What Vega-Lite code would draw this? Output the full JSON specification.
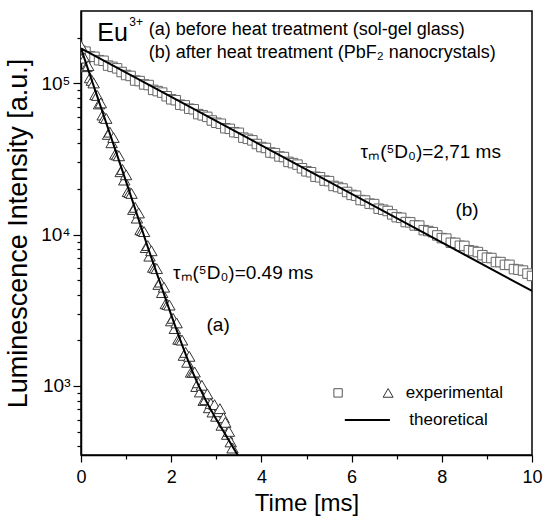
{
  "$schema": "https://vega.github.io/schema/vega-lite/v6.json",
  "autosize": {"type": "none"},
  "padding": {"left": 81, "top": 11, "right": 12, "bottom": 64},
  "width": 451,
  "height": 444,
  "background": "white",
  "config": {
    "view": {"stroke": "black", "strokeWidth": 1.5},
    "font": "Liberation Sans",
    "axis": {"grid": false, "domainColor": "black", "domainWidth": 1.5, "tickColor": "black", "tickWidth": 1.2, "labelColor": "black", "titleColor": "black", "labelFont": "Liberation Sans", "titleFont": "Liberation Sans", "titleFontWeight": "normal"}
  },
  "datasets": {
    "expA": [
      {"t":0,"v":177000},{"t":0.04,"v":148200},{"t":0.08,"v":146500},{"t":0.12,"v":128600},{"t":0.16,"v":130700},{"t":0.2,"v":108600},{"t":0.24,"v":104400},{"t":0.28,"v":100400},{"t":0.32,"v":84020},{"t":0.36,"v":83020},{"t":0.4,"v":72950},{"t":0.44,"v":74100},{"t":0.48,"v":61620},{"t":0.52,"v":59230},{"t":0.56,"v":58520},{"t":0.6,"v":45920},{"t":0.64,"v":47520},{"t":0.68,"v":40430},{"t":0.72,"v":43810},{"t":0.76,"v":33980},{"t":0.8,"v":33570},{"t":0.84,"v":33170},{"t":0.88,"v":26030},{"t":0.92,"v":26940},{"t":0.96,"v":22920},{"t":1.0,"v":24830},{"t":1.04,"v":19230},{"t":1.08,"v":18970},{"t":1.12,"v":18710},{"t":1.16,"v":14660},{"t":1.2,"v":15140},{"t":1.24,"v":12850},{"t":1.28,"v":13900},{"t":1.32,"v":10760},{"t":1.36,"v":10620},{"t":1.4,"v":10470},{"t":1.44,"v":8204},{"t":1.48,"v":8472},{"t":1.52,"v":7207},{"t":1.56,"v":7824},{"t":1.6,"v":6081},{"t":1.64,"v":6020},{"t":1.68,"v":5959},{"t":1.72,"v":4687},{"t":1.76,"v":4858},{"t":1.8,"v":4140},{"t":1.84,"v":4494},{"t":1.88,"v":3493},{"t":1.92,"v":3458},{"t":1.96,"v":3423},{"t":2.0,"v":2692},{"t":2.04,"v":2800},{"t":2.08,"v":2395},{"t":2.12,"v":2610},{"t":2.16,"v":2036},{"t":2.2,"v":2023},{"t":2.24,"v":2010},{"t":2.28,"v":1593},{"t":2.32,"v":1667},{"t":2.36,"v":1434},{"t":2.4,"v":1570},{"t":2.44,"v":1232},{"t":2.48,"v":1231},{"t":2.52,"v":1237},{"t":2.56,"v":992},{"t":2.6,"v":1050},{"t":2.64,"v":913},{"t":2.68,"v":1011},{"t":2.72,"v":802},{"t":2.76,"v":812},{"t":2.8,"v":887},{"t":2.84,"v":718},{"t":2.88,"v":767},{"t":2.92,"v":673},{"t":2.96,"v":753},{"t":3.0,"v":631},{"t":3.04,"v":676},{"t":3.08,"v":708},{"t":3.12,"v":550},{"t":3.16,"v":617},{"t":3.2,"v":575},{"t":3.24,"v":479},{"t":3.28,"v":501},{"t":3.32,"v":427},{"t":3.36,"v":389}
    ],
    "expB": [
      {"t":0,"v":163800},{"t":0.1,"v":161600},{"t":0.2,"v":150800},{"t":0.3,"v":149400},{"t":0.4,"v":142000},{"t":0.5,"v":140700},{"t":0.6,"v":130700},{"t":0.7,"v":128300},{"t":0.8,"v":125400},{"t":0.9,"v":118600},{"t":1.0,"v":113300},{"t":1.1,"v":111700},{"t":1.2,"v":104200},{"t":1.3,"v":103300},{"t":1.4,"v":98200},{"t":1.5,"v":97270},{"t":1.6,"v":90360},{"t":1.7,"v":88720},{"t":1.8,"v":86700},{"t":1.9,"v":82020},{"t":2.0,"v":78320},{"t":2.1,"v":77250},{"t":2.2,"v":72090},{"t":2.3,"v":71410},{"t":2.4,"v":67880},{"t":2.5,"v":67260},{"t":2.6,"v":62500},{"t":2.7,"v":61350},{"t":2.8,"v":59950},{"t":2.9,"v":56730},{"t":3.0,"v":54800},{"t":3.1,"v":54040},{"t":3.2,"v":50430},{"t":3.3,"v":49960},{"t":3.4,"v":47490},{"t":3.5,"v":47050},{"t":3.6,"v":43700},{"t":3.7,"v":42910},{"t":3.8,"v":41930},{"t":3.9,"v":39670},{"t":4.0,"v":37880},{"t":4.1,"v":37360},{"t":4.2,"v":34860},{"t":4.3,"v":34530},{"t":4.4,"v":32830},{"t":4.5,"v":32530},{"t":4.6,"v":30220},{"t":4.7,"v":29660},{"t":4.8,"v":28990},{"t":4.9,"v":27430},{"t":5.0,"v":26190},{"t":5.1,"v":25830},{"t":5.2,"v":24120},{"t":5.3,"v":23910},{"t":5.4,"v":22740},{"t":5.5,"v":22550},{"t":5.6,"v":20970},{"t":5.7,"v":20620},{"t":5.8,"v":20170},{"t":5.9,"v":19120},{"t":6.0,"v":18290},{"t":6.1,"v":18080},{"t":6.2,"v":16910},{"t":6.3,"v":16800},{"t":6.4,"v":16010},{"t":6.5,"v":15910},{"t":6.6,"v":14830},{"t":6.7,"v":14600},{"t":6.8,"v":14320},{"t":6.9,"v":13600},{"t":7.0,"v":13040},{"t":7.1,"v":12910},{"t":7.2,"v":12100},{"t":7.3,"v":12050},{"t":7.4,"v":11500},{"t":7.5,"v":11460},{"t":7.6,"v":10700},{"t":7.7,"v":10560},{"t":7.8,"v":10380},{"t":7.9,"v":9872},{"t":8.0,"v":9484},{"t":8.1,"v":9412},{"t":8.2,"v":8841},{"t":8.3,"v":8815},{"t":8.4,"v":8438},{"t":8.5,"v":8418},{"t":8.6,"v":7876},{"t":8.7,"v":7787},{"t":8.8,"v":7668},{"t":8.9,"v":7313},{"t":9.0,"v":7041},{"t":9.1,"v":7000},{"t":9.2,"v":6588},{"t":9.3,"v":6585},{"t":9.4,"v":6314},{"t":9.5,"v":6311},{"t":9.6,"v":5918},{"t":9.7,"v":5865},{"t":9.8,"v":5787},{"t":9.9,"v":5527},{"t":10.0,"v":5333}
    ],
    "thA": [
      {"t":0,"v":169800},{"t":0.25,"v":102300},{"t":0.5,"v":61660},{"t":0.75,"v":37150},{"t":1.0,"v":22390},{"t":1.25,"v":13340},{"t":1.5,"v":7943},{"t":1.75,"v":4842},{"t":2.0,"v":2951},{"t":2.25,"v":1841},{"t":2.5,"v":1189},{"t":2.75,"v":822},{"t":3.0,"v":603},{"t":3.25,"v":452},{"t":3.5,"v":339}
    ],
    "thB": [
      {"t":0,"v":170000},{"t":10,"v":4245}
    ]
  },
  "encoding": {
    "x": {"type": "quantitative", "scale": {"domain": [0, 10], "nice": false, "zero": false},
      "axis": {"title": "Time [ms]", "values": [0,1,2,3,4,5,6,7,8,9,10], "labelExpr": "datum.value % 2 == 0 ? datum.label : ''", "labelFontSize": 18, "titleFontSize": 24, "labelPadding": 6, "titlePadding": 5, "tickSize": {"condition": {"test": "datum.value % 2 == 0", "value": 7}, "value": 4}, "labelOverlap": false, "labelFlush": false}},
    "y": {"type": "quantitative", "scale": {"type": "log", "domain": [350, 300000], "nice": false},
      "axis": {"title": "Luminescence Intensity [a.u.]", "values": [400,500,600,700,800,900,1000,2000,3000,4000,5000,6000,7000,8000,9000,10000,20000,30000,40000,50000,60000,70000,80000,90000,100000,200000], "labelExpr": "datum.value == 1000 ? '10³' : datum.value == 10000 ? '10⁴' : datum.value == 100000 ? '10⁵' : ''", "labelFontSize": 19, "titleFontSize": 27, "labelPadding": 3, "titlePadding": 8, "tickSize": {"condition": {"test": "datum.value == 1000 || datum.value == 10000 || datum.value == 100000", "value": 8}, "value": 4}, "labelOverlap": false, "labelFlush": false}}
  },
  "layer": [
    {"data": {"name": "expB"}, "mark": {"type": "point", "shape": "square", "size": 90, "fill": "white", "fillOpacity": 1, "stroke": "#666666", "strokeWidth": 1, "opacity": 1, "clip": true},
      "encoding": {"x": {"field": "t"}, "y": {"field": "v"}}},
    {"data": {"name": "expA"}, "mark": {"type": "point", "shape": "triangle-up", "size": 130, "fill": "white", "fillOpacity": 1, "stroke": "#333333", "strokeWidth": 1, "opacity": 1, "clip": true},
      "encoding": {"x": {"field": "t"}, "y": {"field": "v"}}},
    {"data": {"name": "thB"}, "mark": {"type": "line", "color": "black", "strokeWidth": 2, "clip": true},
      "encoding": {"x": {"field": "t"}, "y": {"field": "v"}}},
    {"data": {"name": "thA"}, "mark": {"type": "line", "color": "black", "strokeWidth": 2, "interpolate": "monotone", "clip": true},
      "encoding": {"x": {"field": "t"}, "y": {"field": "v"}}},
    {"data": {"values": [{}]}, "mark": {"type": "text", "text": "Eu", "fontSize": 25, "align": "left", "baseline": "middle"},
      "encoding": {"x": {"datum": 0.36}, "y": {"datum": 215000}}},
    {"data": {"values": [{}]}, "mark": {"type": "text", "text": "3+", "fontSize": 12, "align": "left", "baseline": "middle"},
      "encoding": {"x": {"datum": 1.07}, "y": {"datum": 252000}}},
    {"data": {"values": [{}]}, "mark": {"type": "text", "text": "(a) before heat treatment (sol-gel glass)", "fontSize": 18, "align": "left", "baseline": "middle"},
      "encoding": {"x": {"datum": 1.5}, "y": {"datum": 226000}}},
    {"data": {"values": [{}]}, "mark": {"type": "text", "text": "(b) after heat treatment (PbF₂ nanocrystals)", "fontSize": 18, "align": "left", "baseline": "middle"},
      "encoding": {"x": {"datum": 1.5}, "y": {"datum": 158000}}},
    {"data": {"values": [{}]}, "mark": {"type": "text", "text": "τₘ(⁵D₀)=2,71 ms", "fontSize": 19, "align": "left", "baseline": "middle"},
      "encoding": {"x": {"datum": 6.2}, "y": {"datum": 35100}}},
    {"data": {"values": [{}]}, "mark": {"type": "text", "text": "(b)", "fontSize": 19, "align": "center", "baseline": "middle"},
      "encoding": {"x": {"datum": 8.56}, "y": {"datum": 14500}}},
    {"data": {"values": [{}]}, "mark": {"type": "text", "text": "τₘ(⁵D₀)=0.49 ms", "fontSize": 19, "align": "left", "baseline": "middle"},
      "encoding": {"x": {"datum": 2.04}, "y": {"datum": 5570}}},
    {"data": {"values": [{}]}, "mark": {"type": "text", "text": "(a)", "fontSize": 19, "align": "center", "baseline": "middle"},
      "encoding": {"x": {"datum": 3.04}, "y": {"datum": 2530}}},
    {"data": {"values": [{}]}, "mark": {"type": "point", "shape": "square", "size": 70, "fill": "white", "fillOpacity": 1, "stroke": "#555555", "strokeWidth": 1, "opacity": 1},
      "encoding": {"x": {"datum": 5.7}, "y": {"datum": 900}}},
    {"data": {"values": [{}]}, "mark": {"type": "point", "shape": "triangle-up", "size": 100, "fill": "white", "fillOpacity": 1, "stroke": "#333333", "strokeWidth": 1, "opacity": 1},
      "encoding": {"x": {"datum": 6.81}, "y": {"datum": 900}}},
    {"data": {"values": [{}]}, "mark": {"type": "text", "text": "experimental", "fontSize": 17, "align": "left", "baseline": "middle"},
      "encoding": {"x": {"datum": 7.2}, "y": {"datum": 900}}},
    {"data": {"values": [{}]}, "mark": {"type": "rule", "color": "black", "strokeWidth": 2},
      "encoding": {"x": {"datum": 5.85}, "x2": {"datum": 6.85}, "y": {"datum": 597}}},
    {"data": {"values": [{}]}, "mark": {"type": "text", "text": "theoretical", "fontSize": 17, "align": "left", "baseline": "middle"},
      "encoding": {"x": {"datum": 7.28}, "y": {"datum": 597}}}
  ]
}
